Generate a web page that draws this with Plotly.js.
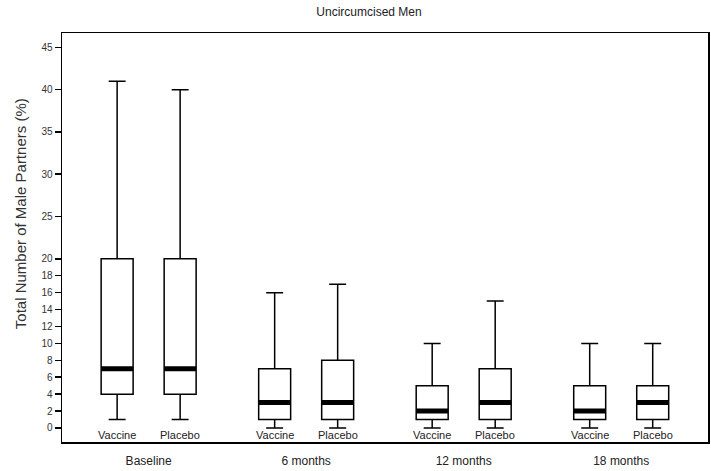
<!DOCTYPE html>
<html>
<head>
<meta charset="utf-8">
<script src="https://cdn.plot.ly/plotly-3.0.1.min.js"></script>
<style>
  html, body { margin: 0; padding: 0; background: #fff; }
  #chart { width: 711px; height: 471px; }
</style>
</head>
<body>
<div id="chart"></div>
<script>
// time points and study arms
const groups = ['Baseline', '6 months', '12 months', '18 months']
const arms = ['Vaccine', 'Placebo']

// box statistics per arm, one value per time point
const vaccineMin = [1, 0, 0, 0]
const vaccineQ1 = [4, 1, 1, 1]
const vaccineMedian = [7, 3, 2, 2]
const vaccineQ3 = [20, 7, 5, 5]
const vaccineMax = [41, 16, 10, 10]

const placeboMin = [1, 0, 0, 0]
const placeboQ1 = [4, 1, 1, 1]
const placeboMedian = [7, 3, 3, 3]
const placeboQ3 = [20, 8, 7, 5]
const placeboMax = [40, 17, 15, 10]

const yTicks = [0, 2, 4, 6, 8, 10, 12, 14, 16, 18, 20, 25, 30, 35, 40, 45]

const armOffset = 0.2
const boxWidth = 0.203

const stats = {
    Vaccine: { lo: vaccineMin, q1: vaccineQ1, med: vaccineMedian, q3: vaccineQ3, hi: vaccineMax },
    Placebo: { lo: placeboMin, q1: placeboQ1, med: placeboMedian, q3: placeboQ3, hi: placeboMax },
}

const groupIdx = groups.map((g, i) => i)
const armX = (arm, i) => i + (arm === 'Vaccine' ? -armOffset : armOffset)

const boxTraces = arms.map(arm => ({
    type: 'box',
    name: arm,
    x: groupIdx.map(i => armX(arm, i)),
    q1: stats[arm].q1,
    median: stats[arm].med,
    q3: stats[arm].q3,
    lowerfence: stats[arm].lo,
    upperfence: stats[arm].hi,
    width: boxWidth,
    whiskerwidth: 0.53,
    boxpoints: false,
    fillcolor: '#ffffff',
    line: { color: '#000', width: 1.5 },
    hoverinfo: 'skip',
    showlegend: false
}))

// thick median bars drawn over the boxes
const medX = [], medY = []
arms.forEach(arm => {
    groupIdx.forEach(i => {
        const c = armX(arm, i)
        medX.push(c - boxWidth / 2, c + boxWidth / 2, null)
        medY.push(stats[arm].med[i], stats[arm].med[i], null)
    })
})
const medianTrace = {
    type: 'scatter',
    mode: 'lines',
    x: medX,
    y: medY,
    line: { color: '#000', width: 5 },
    hoverinfo: 'skip',
    showlegend: false
}

const labelFont = 'Liberation Sans, Arial, sans-serif'
const armLabels = []
arms.forEach(arm => {
    groupIdx.forEach(i => {
        armLabels.push({
            x: armX(arm, i), y: -0.86, xref: 'x', yref: 'y',
            text: arm, showarrow: false, yanchor: 'middle',
            font: { family: labelFont, size: 11, color: '#222' }
        })
    })
})

// y title sits a bit above the middle of the axis in the original
const yTitle = {
    text: 'Total Number of Male Partners (%)',
    xref: 'paper', yref: 'paper',
    x: -0.065, y: 0.557,
    xanchor: 'center', yanchor: 'middle',
    textangle: -90, showarrow: false,
    font: { family: labelFont, size: 15, color: '#333' }
}

Plotly.newPlot(
    document.getElementById('chart'),
    [...boxTraces, medianTrace],
    {
        width: 711,
        height: 471,
        margin: { l: 62, r: 3, t: 33, b: 29 },
        paper_bgcolor: '#fff',
        plot_bgcolor: '#fff',
        font: { family: labelFont, color: '#222' },
        title: {
            text: 'Uncircumcised Men',
            x: 369 / 711, xanchor: 'center',
            y: 1 - 12 / 471, yanchor: 'middle',
            font: { size: 12, color: '#222' }
        },
        xaxis: {
            range: [-0.55, 3.551],
            tickvals: groupIdx,
            ticktext: groups,
            ticks: '',
            showgrid: false,
            zeroline: false,
            showline: true,
            mirror: true,
            linecolor: '#000',
            linewidth: 1.5,
            ticklabelstandoff: 7,
            tickfont: { size: 12, color: '#222' }
        },
        yaxis: {
            range: [-1.66, 46.7],
            tickvals: yTicks,
            ticktext: yTicks.map(String),
            ticks: 'outside',
            ticklen: 6,
            tickwidth: 1.5,
            tickcolor: '#000',
            showgrid: false,
            zeroline: false,
            showline: true,
            mirror: true,
            linecolor: '#000',
            linewidth: 1.5,
            tickfont: { size: 10, color: '#333' }
        },
        annotations: [...armLabels, yTitle]
    },
    { displayModeBar: false, staticPlot: true }
)
</script>
</body>
</html>
